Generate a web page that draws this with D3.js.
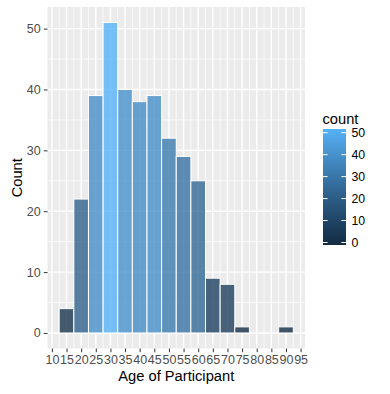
<!DOCTYPE html>
<html><head><meta charset="utf-8">
<script src="https://cdn.jsdelivr.net/npm/d3@7"></script>
<style>body{margin:0;background:#fff}svg{display:block}text{font-family:"Liberation Sans",Arial,sans-serif}</style>
</head><body><svg id="c" width="390" height="394"></svg>
<script>
const binCenters = [15,20,25,30,35,40,45,50,55,60,65,70,75,80,85,90];
const counts     = [4,22,39,51,40,38,39,32,29,25,9,8,1,0,0,1];
const xTicks = [10,15,20,25,30,35,40,45,50,55,60,65,70,75,80,85,90,95];
const yTicks = [0,10,20,30,40,50];
const legendTicks = [0,10,20,30,40,50];
const binWidth = 5;

const svg = d3.select("#c");
const P = {l:47.5, r:305, t:7, b:348.5};
const x = d3.scaleLinear().domain([8.5,96.5]).range([P.l,P.r]);
const y = d3.scaleLinear().domain([-2.55,53.55]).range([P.b,P.t]);
const col = d3.scaleLinear().domain([0,51]).range(["#132B43","#56B1F7"]).interpolate(d3.interpolateLab);

svg.append("rect").attr("x",P.l).attr("y",P.t).attr("width",P.r-P.l).attr("height",P.b-P.t).attr("fill","#EBEBEB");
const g = svg.append("g");
const xMinor = xTicks.slice(0,-1).map(v=>v+2.5);
const yMinor = [5,15,25,35,45];
g.selectAll(".xm").data(xMinor).join("line").attr("x1",d=>x(d)).attr("x2",d=>x(d)).attr("y1",P.t).attr("y2",P.b).attr("stroke","#fff").attr("stroke-width",0.7);
g.selectAll(".ym").data(yMinor).join("line").attr("y1",d=>y(d)).attr("y2",d=>y(d)).attr("x1",P.l).attr("x2",P.r).attr("stroke","#fff").attr("stroke-width",0.7);
g.selectAll(".xM").data(xTicks).join("line").attr("x1",d=>x(d)).attr("x2",d=>x(d)).attr("y1",P.t).attr("y2",P.b).attr("stroke","#fff").attr("stroke-width",1.4);
g.selectAll(".yM").data(yTicks).join("line").attr("y1",d=>y(d)).attr("y2",d=>y(d)).attr("x1",P.l).attr("x2",P.r).attr("stroke","#fff").attr("stroke-width",1.4);

const data = binCenters.map((c,i)=>({c, n:counts[i]}));
svg.append("g").selectAll("rect").data(data).join("rect")
  .attr("x",d=>x(d.c-binWidth/2)).attr("width",d=>x(d.c+binWidth/2)-x(d.c-binWidth/2))
  .attr("y",d=>y(d.n)).attr("height",d=>y(0)-y(d.n))
  .attr("fill",d=>col(d.n)).attr("fill-opacity",0.8)
  .attr("stroke","#fff").attr("stroke-width",1);

const xa = svg.append("g").attr("transform",`translate(0,${P.b})`)
  .call(d3.axisBottom(x).tickValues(xTicks).tickSize(3.7).tickPadding(3.2).tickFormat(d3.format("d")));
const ya = svg.append("g").attr("transform",`translate(${P.l},0)`)
  .call(d3.axisLeft(y).tickValues(yTicks).tickSize(3.7).tickPadding(3.2).tickFormat(d3.format("d")));
[xa,ya].forEach(a=>{
  a.select(".domain").remove();
  a.selectAll("line").attr("stroke","#333333").attr("stroke-width",1);
  a.selectAll("text").attr("fill","#4D4D4D").attr("font-size","12.5px").attr("font-family","'Liberation Sans',Arial,sans-serif");
});

svg.append("text").attr("x",(P.l+P.r)/2).attr("y",381).attr("text-anchor","middle").attr("font-size","14.7px").attr("fill","#000").text("Age of Participant");
svg.append("text").attr("transform",`translate(22,${(P.t+P.b)/2}) rotate(-90)`).attr("text-anchor","middle").attr("font-size","14.7px").attr("fill","#000").text("Count");

const L = {x:323, w:23, t:129, b:245};
svg.append("text").attr("x",322.5).attr("y",124).attr("font-size","14.7px").attr("fill","#000").text("count");
const defs = svg.append("defs");
const grad = defs.append("linearGradient").attr("id","lg").attr("x1",0).attr("y1",1).attr("x2",0).attr("y2",0);
d3.range(0,1.0001,0.05).forEach(t=>grad.append("stop").attr("offset",t).attr("stop-color",col(t*51)));
svg.append("rect").attr("x",L.x).attr("y",L.t).attr("width",L.w).attr("height",L.b-L.t).attr("fill","url(#lg)");
const ly = d3.scaleLinear().domain([0,51]).range([L.b-2.5,L.t+1.5]);
const lt = svg.append("g");
legendTicks.forEach(v=>{
  lt.append("line").attr("x1",L.x).attr("x2",L.x+4.6).attr("y1",ly(v)).attr("y2",ly(v)).attr("stroke","#fff").attr("stroke-width",1);
  lt.append("line").attr("x1",L.x+L.w-4.6).attr("x2",L.x+L.w).attr("y1",ly(v)).attr("y2",ly(v)).attr("stroke","#fff").attr("stroke-width",1);
  lt.append("text").attr("x",351.5).attr("y",ly(v)).attr("dy","0.36em").attr("font-size","12.3px").attr("fill","#000").text(v);
});
</script></body></html>
